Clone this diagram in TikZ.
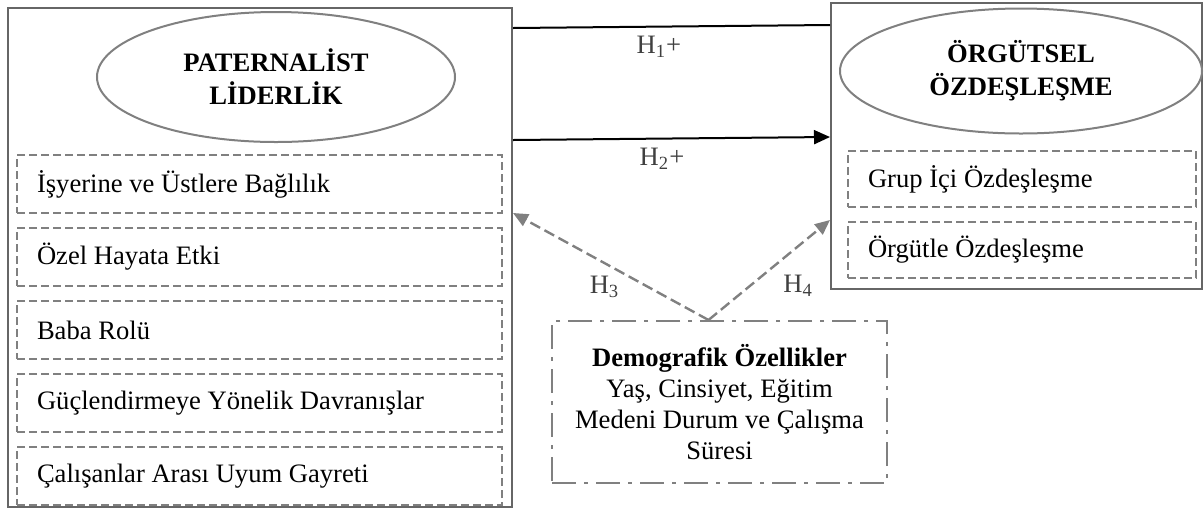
\documentclass[tikz,border=0pt]{standalone}
\usepackage{fontspec}
\setmainfont{Liberation Serif}
\usepackage{xcolor}
\usepackage{tikz}
\usetikzlibrary{arrows.meta,positioning,shapes.geometric}

\begin{document}
\begin{tikzpicture}[x=0.5pt,y=-0.5pt,node distance=6.5pt,font=\fontsize{13.3}{16.5}\selectfont,
big/.style={draw=black!60,line width=1pt,inner sep=0pt},
oval/.style={ellipse,draw=black!50,line width=1pt,fill=white,align=center,inner sep=0pt,font=\fontsize{13.3}{16.5}\selectfont\bfseries},
dim/.style={draw=black!50,line width=1pt,dash pattern=on 4pt off 2pt,text width=#1,align=flush left,inner xsep=10pt,minimum height=29pt},
hyp/.style={text=black!75},
dasharrow/.style={draw=black!50,line width=1.2pt,dash pattern=on 5.5pt off 2.5pt,-{Triangle[length=7.5pt,width=6.5pt]}}]
\useasboundingbox (0,0) rectangle (1204,510);
\node[big,minimum width=252pt,minimum height=249.5pt] (pl) at (260,257.5) {};
\node[big,minimum width=185.5pt,minimum height=143pt] (oo) at (1016.5,146) {};
\node[oval,minimum width=179pt,minimum height=65pt] (plt) at (276,77) {PATERNALİST\\LİDERLİK};
\node[oval,minimum width=181pt,minimum height=62.5pt] (oot) at (1021,71) {ÖRGÜTSEL\\ÖZDEŞLEŞME};
\node[dim=222.5pt] (p1) at (259.5,184) {İşyerine ve Üstlere Bağlılık};
\node[dim=222.5pt,below=of p1] (p2) {Özel Hayata Etki};
\node[dim=222.5pt,below=of p2] (p3) {Baba Rolü};
\node[dim=222.5pt,below=of p3] (p4) {Güçlendirmeye Yönelik Davranışlar};
\node[dim=222.5pt,below=of p4] (p5) {Çalışanlar Arası Uyum Gayreti};
\node[dim=154pt,minimum height=28pt] (o1) at (1022,179) {Grup İçi Özdeşleşme};
\node[dim=154pt,minimum height=28pt,below=of o1] (o2) {Örgütle Özdeşleşme};
\node[draw=black!50,line width=1pt,dash pattern=on 12pt off 4pt on 2pt off 4pt,minimum width=167.5pt,minimum height=81pt,align=center,font=\fontsize{13.3}{15.5}\selectfont] (dm) at (719.5,402) {\textbf{Demografik Özellikler}\\Yaş, Cinsiyet, Eğitim\\Medeni Durum ve Çalışma\\Süresi};
\draw[line width=1pt] (pl.east |- 0,28) -- node[hyp,below,pos=.46,inner sep=4pt] {H\textsubscript{1}+} (oo.west |- 0,25);
\draw[line width=1pt,-{Triangle[length=8pt,width=7pt]}] (pl.east |- 0,140) -- node[hyp,below,pos=.47,inner sep=4pt] {H\textsubscript{2}+} (oo.west |- 0,137);
\draw[dasharrow] ([xshift=-5.5pt]dm.north) -- node[hyp,pos=.44,anchor=north east,inner sep=1pt] {H\textsubscript{3}} (pl.east |- 0,213);
\draw[dasharrow] ([xshift=-5.5pt]dm.north) -- node[hyp,pos=.54,anchor=north west,inner sep=4pt] {H\textsubscript{4}} (oo.west |- 0,220);
\end{tikzpicture}
\end{document}
